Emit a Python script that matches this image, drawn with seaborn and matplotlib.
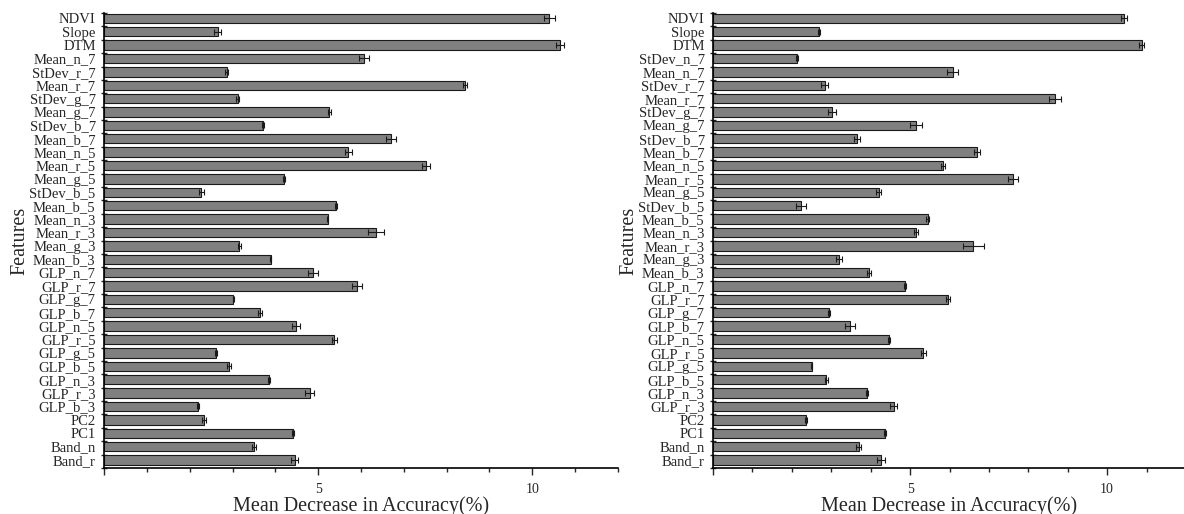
import numpy as np
import pandas as pd
import matplotlib
matplotlib.use("Agg")
import matplotlib.pyplot as plt
import seaborn as sns

features_a = ["NDVI", "Slope", "DTM", "Mean_n_7", "StDev_r_7", "Mean_r_7", "StDev_g_7",
              "Mean_g_7", "StDev_b_7", "Mean_b_7", "Mean_n_5", "Mean_r_5", "Mean_g_5",
              "StDev_b_5", "Mean_b_5", "Mean_n_3", "Mean_r_3", "Mean_g_3", "Mean_b_3",
              "GLP_n_7", "GLP_r_7", "GLP_g_7", "GLP_b_7", "GLP_n_5", "GLP_r_5", "GLP_g_5",
              "GLP_b_5", "GLP_n_3", "GLP_r_3", "GLP_b_3", "PC2", "PC1", "Band_n", "Band_r"]
mda_a = [10.40, 2.65, 10.65, 6.07, 2.86, 8.42, 3.12, 5.26, 3.72, 6.70, 5.70, 7.52, 4.20,
         2.27, 5.42, 5.22, 6.35, 3.16, 3.89, 4.88, 5.90, 3.02, 3.64, 4.48, 5.38, 2.61,
         2.92, 3.85, 4.80, 2.20, 2.33, 4.41, 3.50, 4.45]
err_a = [0.12, 0.08, 0.10, 0.12, 0.03, 0.05, 0.04, 0.04, 0.02, 0.12, 0.08, 0.10, 0.02,
         0.06, 0.02, 0.02, 0.19, 0.03, 0.02, 0.12, 0.12, 0.02, 0.05, 0.10, 0.05, 0.02,
         0.05, 0.02, 0.10, 0.02, 0.04, 0.02, 0.05, 0.08]

features_b = ["NDVI", "Slope", "DTM", "StDev_n_7", "Mean_n_7", "StDev_r_7", "Mean_r_7",
              "StDev_g_7", "Mean_g_7", "StDev_b_7", "Mean_b_7", "Mean_n_5", "Mean_r_5",
              "Mean_g_5", "StDev_b_5", "Mean_b_5", "Mean_n_3", "Mean_r_3", "Mean_g_3",
              "Mean_b_3", "GLP_n_7", "GLP_r_7", "GLP_g_7", "GLP_b_7", "GLP_n_5", "GLP_r_5",
              "GLP_g_5", "GLP_b_5", "GLP_n_3", "GLP_r_3", "PC2", "PC1", "Band_n", "Band_r"]
mda_b = [10.43, 2.69, 10.88, 2.13, 6.08, 2.83, 8.68, 3.03, 5.15, 3.65, 6.70, 5.84, 7.62,
         4.20, 2.23, 5.45, 5.15, 6.60, 3.20, 3.96, 4.87, 5.96, 2.95, 3.48, 4.47, 5.34,
         2.50, 2.87, 3.90, 4.58, 2.36, 4.37, 3.70, 4.27]
err_b = [0.08, 0.03, 0.06, 0.03, 0.14, 0.10, 0.15, 0.10, 0.14, 0.08, 0.07, 0.05, 0.13,
         0.07, 0.12, 0.04, 0.04, 0.27, 0.07, 0.05, 0.02, 0.06, 0.02, 0.12, 0.03, 0.07,
         0.02, 0.04, 0.02, 0.10, 0.03, 0.03, 0.06, 0.10]

sns.set_style("ticks")
plt.rcParams["font.family"] = ["Liberation Serif", "DejaVu Serif"]

fig = plt.figure(figsize=(11.84, 5.14), dpi=100)
ax_a = fig.add_axes([104 / 1184, 1 - 468 / 514, 514 / 1184, 455 / 514])
ax_b = fig.add_axes([713 / 1184, 1 - 468 / 514, 473 / 1184, 455 / 514])


def draw_panel(ax, features, mda, err):
    df = pd.DataFrame({"Features": features, "MDA": mda})
    sns.barplot(data=df, x="MDA", y="Features", color="#808080", saturation=1,
                edgecolor="#1a1a1a", linewidth=0.8, width=0.7, ax=ax)
    pos = np.arange(len(features))
    ax.errorbar(mda, pos, xerr=err, fmt="none", ecolor="#1a1a1a",
                elinewidth=0.8, capsize=2.5, capthick=0.8)
    ax.set_xlim(0, 12)
    ax.set_ylim(len(features) - 0.4, -0.4)
    ax.set_xticks([0, 5, 10])
    ax.set_xticklabels(["", "5", "10"])
    ax.set_xticks(np.arange(0, 13), minor=True)
    ax.set_yticks(pos)
    ax.set_yticklabels(features)
    ax.set_yticks(np.arange(len(features) + 1) - 0.4, minor=True)
    ax.tick_params(axis="y", which="major", length=0, pad=6, labelsize=10.5)
    ax.tick_params(axis="y", which="minor", direction="inout", length=5, width=1)
    ax.tick_params(axis="x", which="major", direction="out", length=5, width=1,
                   labelsize=10, pad=6)
    ax.tick_params(axis="x", which="minor", direction="out", length=3, width=1)
    ax.set_xlabel("Mean Decrease in Accuracy(%)", fontsize=14.5, labelpad=0)
    ax.set_ylabel("Features", fontsize=14.5, labelpad=0)
    for side in ["top", "right"]:
        ax.spines[side].set_visible(False)
    for side in ["left", "bottom"]:
        ax.spines[side].set_linewidth(1.2)
        ax.spines[side].set_color("black")


draw_panel(ax_a, features_a, mda_a, err_a)
draw_panel(ax_b, features_b, mda_b, err_b)

fig.savefig("out.png", dpi=100)
